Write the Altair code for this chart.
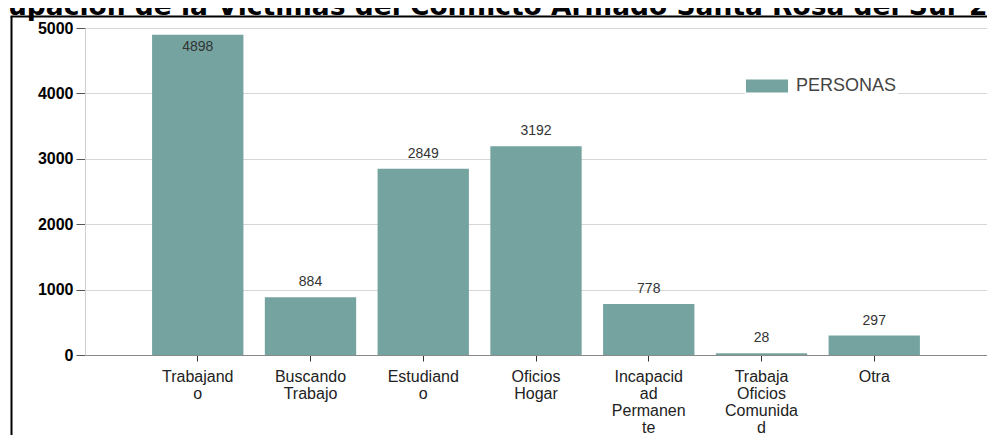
import json
import altair as alt
import pandas as pd

# ---- data ----
categories = ["Trabajando", "Buscando Trabajo", "Estudiando", "Oficios Hogar",
              "Incapacidad Permanente", "Trabaja Oficios Comunidad", "Otra"]
label_lines = [["Trabajand", "o"], ["Buscando", "Trabajo"], ["Estudiand", "o"],
               ["Oficios", "Hogar"], ["Incapacid", "ad", "Permanen", "te"],
               ["Trabaja", "Oficios", "Comunida", "d"], ["Otra"]]
values = [4898, 884, 2849, 3192, 778, 28, 297]
series_name = "PERSONAS"
y_ticks = [0, 1000, 2000, 3000, 4000, 5000]
title_text = "upación de la Víctimas del Conflicto Armado  Santa Rosa del Sur 2"

bar_color = "#74a3a0"
W, H = 902, 327

df = pd.DataFrame({"cat": categories, "value": values, "series": [series_name] * len(values)})

# label expression mapping category -> wrapped lines
expr = "datum.value"
for c, lines in reversed(list(zip(categories, label_lines))):
    expr = f"datum.value === {json.dumps(c)} ? {json.dumps(lines)} : ({expr})"

x_enc = alt.X("cat:N", sort=categories,
              scale=alt.Scale(paddingInner=0.19, paddingOuter=0.595),
              axis=alt.Axis(title=None, labelAngle=0, labelExpr=expr,
                            labelFont="Liberation Sans", labelFontSize=16,
                            labelLineHeight=17, labelColor="#222222",
                            labelPadding=7, tickSize=6, tickColor="#333333",
                            domainColor="#8a8a8a", grid=False, labelLimit=200))
y_scale = alt.Scale(domain=[0, 5000], nice=False)

bars = alt.Chart(df).mark_bar(color=bar_color).encode(
    x=x_enc,
    y=alt.Y("value:Q", scale=y_scale,
            axis=alt.Axis(title=None, values=y_ticks, format="d", labelFont="Liberation Sans",
                          labelFontWeight="bold", labelFontSize=16, labelColor="#000000",
                          labelPadding=3, tickSize=9, tickColor="#555555",
                          domainColor="#cfcfcf", gridColor="#d6d6d6", grid=True)),
    color=alt.Color("series:N",
                    scale=alt.Scale(domain=[series_name], range=[bar_color]),
                    legend=alt.Legend(title=None, orient="none", legendX=660, legendY=36,
                                      symbolType="M-1,-0.31L1,-0.31L1,0.31L-1,0.31Z",
                                      symbolSize=1764, symbolStrokeWidth=0,
                                      labelFont="Liberation Sans", labelFontSize=18,
                                      labelColor="#444444", labelOffset=8,
                                      fillColor="white", padding=1)),
)

lab_above = alt.Chart(df).transform_filter(alt.datum.value < 4500).mark_text(
    baseline="bottom", dy=-8, font="Liberation Sans", fontSize=14, color="#333333"
).encode(x=alt.X("cat:N", sort=categories), y=alt.Y("value:Q", scale=y_scale),
         text=alt.Text("value:Q"))

lab_inside = alt.Chart(df).transform_filter(alt.datum.value >= 4500).mark_text(
    baseline="top", dy=5, font="Liberation Sans", fontSize=14, color="#333333"
).encode(x=alt.X("cat:N", sort=categories), y=alt.Y("value:Q", scale=y_scale),
         text=alt.Text("value:Q"))

one = alt.Data(values=[{"k": 1}])
title = alt.Chart(one).mark_text(
    align="left", baseline="alphabetic", font="DejaVu Sans", fontWeight="bold",
    fontSize=26.5, color="#000000"
).encode(x=alt.value(-77), y=alt.value(-13), text=alt.value(title_text))

frame_left = alt.Chart(one).mark_rule(color="#000000", strokeWidth=2).encode(
    x=alt.value(-73.5), y=alt.value(-11.5), y2=alt.value(420))
frame_top = alt.Chart(one).mark_rule(color="#000000", strokeWidth=2).encode(
    y=alt.value(-11.5), x=alt.value(-74.5), x2=alt.value(910))

chart = alt.layer(bars, lab_above, lab_inside, frame_left, frame_top, title).properties(
    width=W, height=H,
    autosize=alt.AutoSizeParams(type="none"),
    padding={"left": 77, "top": 20, "right": 0, "bottom": 80},
    background="white",
).configure_view(stroke=None)

chart.save("out.html", embed_options={"renderer": "svg", "actions": False})
